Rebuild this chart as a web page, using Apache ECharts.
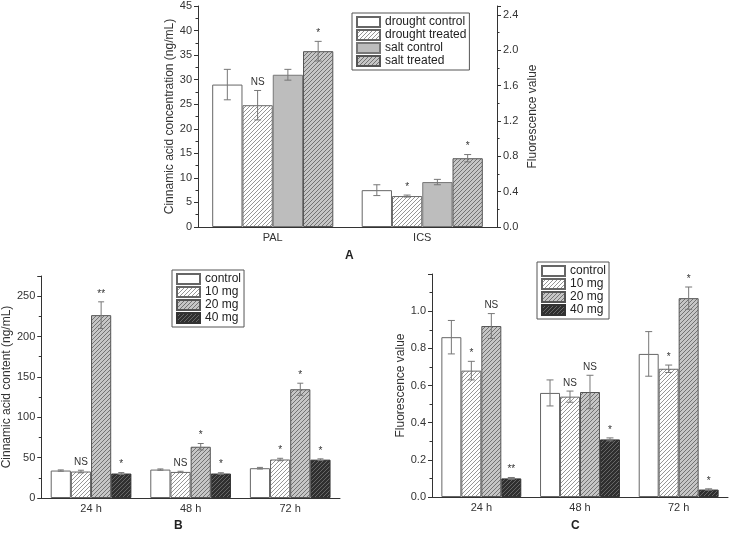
<!DOCTYPE html>
<html>
<head>
<meta charset="utf-8">
<script src="https://cdn.jsdelivr.net/npm/echarts/dist/echarts.min.js"></script>
<style>html,body{margin:0;padding:0;background:#fff}#c{width:733px;height:533px}</style>
</head>
<body>
<div id="c"></div>
<script>
// ---------- Panel A data ----------
const catA = ['PAL', 'ICS'];
const namesA = ['drought control', 'drought treated', 'salt control', 'salt treated'];
const droughtControl = [29.0, 7.5];
const droughtControlErr = [3.1, 1.1];
const droughtTreated = [24.8, 6.3];
const droughtTreatedErr = [3.0, 0.2];
const saltControl = [31.0, 9.15];
const saltControlErr = [1.1, 0.55];
const saltTreated = [35.8, 14.0];
const saltTreatedErr = [2.0, 0.75];
const sigA = [['', ''], ['NS', '*'], ['', ''], ['*', '*']];

// ---------- Panels B / C shared ----------
const catBC = ['24 h', '48 h', '72 h'];
const namesBC = ['control', '10 mg', '20 mg', '40 mg'];

// ---------- Panel B data ----------
const bControl = [34.0, 35.2, 36.9];
const bControlErr = [0.8, 0.8, 1.0];
const b10 = [32.8, 32.3, 47.7];
const b10Err = [1.6, 0.8, 1.5];
const b20 = [226.5, 63.5, 134.7];
const b20Err = [16.5, 4.0, 7.5];
const b40 = [30.3, 30.3, 47.5];
const b40Err = [1.2, 1.0, 1.0];
const sigB = [['', '', ''], ['NS', 'NS', '*'], ['**', '*', '*'], ['*', '*', '*']];

// ---------- Panel C data ----------
const cControl = [0.86, 0.56, 0.77];
const cControlErr = [0.09, 0.07, 0.12];
const c10 = [0.68, 0.54, 0.69];
const c10Err = [0.05, 0.03, 0.02];
const c20 = [0.92, 0.565, 1.07];
const c20Err = [0.067, 0.09, 0.06];
const c40 = [0.10, 0.31, 0.04];
const c40Err = [0.005, 0.008, 0.004];
const sigC = [['', '', ''], ['*', 'NS', '*'], ['NS', 'NS', '*'], ['**', '*', '*']];

// ---------- styling helpers ----------
function hatch(bg, fg, p) {
  p = p || 4;
  const c = document.createElement('canvas');
  c.width = p; c.height = p;
  const ctx = c.getContext('2d');
  ctx.fillStyle = bg; ctx.fillRect(0, 0, p, p);
  ctx.strokeStyle = fg; ctx.lineWidth = 0.9;
  ctx.beginPath();
  ctx.moveTo(0, p); ctx.lineTo(p, 0);
  ctx.moveTo(-1, 1); ctx.lineTo(1, -1);
  ctx.moveTo(p - 1, p + 1); ctx.lineTo(p + 1, p - 1);
  ctx.stroke();
  return { image: c, repeat: 'repeat' };
}
const styleWhite = { color: '#ffffff', borderColor: '#666', borderWidth: 1 };
const styleHatchWhite = { color: hatch('#ffffff', '#8a8a8a'), borderColor: '#666', borderWidth: 1 };
const styleGray = { color: '#bdbdbd', borderColor: '#777', borderWidth: 1 };
const styleHatchGray = { color: hatch('#c6c6c6', '#6a6a6a'), borderColor: '#555', borderWidth: 1 };
const styleHatchDark = { color: hatch('#2f2f2f', '#6e6e6e'), borderColor: '#333', borderWidth: 1 };

const FONT = 'Liberation Sans, Arial, sans-serif';
const GAP = 0.19;

function barSeries(name, data, style, xi, yi) {
  return {
    type: 'bar', name: name, data: data, xAxisIndex: xi, yAxisIndex: yi,
    barGap: '0%', barCategoryGap: (GAP * 100) + '%',
    itemStyle: style, emphasis: { disabled: true }, z: 2
  };
}
function errSeries(vals, errs, sigs, k, xi, yi, capW) {
  return {
    type: 'custom', xAxisIndex: xi, yAxisIndex: yi, z: 5, silent: true,
    data: vals.map((v, i) => [i, v, errs[i]]),
    encode: { x: 0, y: 1 },
    renderItem: function (params, api) {
      const ci = api.value(0), v = api.value(1), e = api.value(2);
      const band = api.size([1, 0])[0];
      const bw = band * (1 - GAP) / 4;
      const cx = api.coord([ci, 0])[0] + (k - 1.5) * bw;
      const yT = api.coord([ci, v + e])[1];
      const yB = api.coord([ci, v - e])[1];
      const st = { stroke: '#777', lineWidth: 1 };
      const ch = [
        { type: 'line', shape: { x1: cx, y1: yT, x2: cx, y2: yB }, style: st },
        { type: 'line', shape: { x1: cx - capW / 2, y1: yT, x2: cx + capW / 2, y2: yT }, style: st },
        { type: 'line', shape: { x1: cx - capW / 2, y1: yB, x2: cx + capW / 2, y2: yB }, style: st }
      ];
      const s = sigs[params.dataIndex];
      if (s) {
        ch.push({ type: 'text', style: { text: s, x: cx, y: yT - 3, align: 'center', verticalAlign: 'bottom', font: '10px ' + FONT, fill: '#333' } });
      }
      return { type: 'group', children: ch };
    }
  };
}

const axisLineStyle = { show: true, lineStyle: { color: '#333', width: 1 } };
function valueAxis(gi, min, max, interval, fmt, name, gap, pos) {
  return {
    type: 'value', gridIndex: gi, min: min, max: max, interval: interval, position: pos,
    axisLine: axisLineStyle,
    axisTick: { show: true, length: 4, lineStyle: { color: '#333' } },
    minorTick: { show: true, splitNumber: 2, length: 2.5, lineStyle: { color: '#333' } },
    splitLine: { show: false },
    axisLabel: { fontSize: 11, color: '#333', fontFamily: FONT, margin: 6, formatter: fmt, showMaxLabel: (max % interval === 0) ? null : false },
    name: name, nameLocation: 'middle', nameRotate: 90, nameGap: gap,
    nameTextStyle: { fontSize: 12, color: '#333', fontFamily: FONT }
  };
}
function catAxis(gi, cats) {
  return {
    type: 'category', gridIndex: gi, data: cats,
    axisLine: axisLineStyle, axisTick: { show: false },
    axisLabel: { fontSize: 11, color: '#333', fontFamily: FONT, margin: 5 }
  };
}
function legend(left, top, names) {
  return {
    data: names, left: left, top: top, orient: 'vertical', icon: 'rect',
    borderColor: '#555', borderWidth: 1, padding: [3, 3, 3, 4],
    itemWidth: 23, itemHeight: 10, itemGap: 1,
    textStyle: { fontSize: 12, color: '#222', fontFamily: FONT, lineHeight: 12 },
    selectedMode: false
  };
}

const chart = echarts.init(document.getElementById('c'), null, { renderer: 'canvas' });
const option = {
  animation: false,
  backgroundColor: '#fff',
  grid: [
    { left: 198, right: 236, top: 6, bottom: 306 },
    { left: 40, width: 300, top: 276, bottom: 35 },
    { left: 432, right: 5, top: 274, bottom: 36 }
  ],
  xAxis: [catAxis(0, catA), catAxis(1, catBC), catAxis(2, catBC)],
  yAxis: [
    valueAxis(0, 0, 45, 5, v => String(v), 'Cinnamic acid concentration (ng/mL)', 22, 'left'),
    valueAxis(0, 0, 2.5, 0.4, v => v.toFixed(1), 'Fluorescence value', 30, 'right'),
    valueAxis(1, 0, 275, 50, v => String(v), 'Cinnamic acid content (ng/mL)', 26, 'left'),
    valueAxis(2, 0, 1.2, 0.2, v => v.toFixed(1), 'Fluorescence value', 25, 'left')
  ],
  legend: [legend(352, 13, namesA), legend(172, 270, namesBC), legend(537, 262, namesBC)],
  graphic: [
    { type: 'text', left: 345, top: 250, style: { text: 'A', font: 'bold 12px ' + FONT, fill: '#222' } },
    { type: 'text', left: 174, top: 520, style: { text: 'B', font: 'bold 12px ' + FONT, fill: '#222' } },
    { type: 'text', left: 571, top: 520, style: { text: 'C', font: 'bold 12px ' + FONT, fill: '#222' } }
  ],
  series: [
    barSeries(namesA[0], droughtControl, styleWhite, 0, 0),
    barSeries(namesA[1], droughtTreated, styleHatchWhite, 0, 0),
    barSeries(namesA[2], saltControl, styleGray, 0, 0),
    barSeries(namesA[3], saltTreated, styleHatchGray, 0, 0),
    errSeries(droughtControl, droughtControlErr, sigA[0], 0, 0, 0, 7),
    errSeries(droughtTreated, droughtTreatedErr, sigA[1], 1, 0, 0, 7),
    errSeries(saltControl, saltControlErr, sigA[2], 2, 0, 0, 7),
    errSeries(saltTreated, saltTreatedErr, sigA[3], 3, 0, 0, 7),

    barSeries(namesBC[0], bControl, styleWhite, 1, 2),
    barSeries(namesBC[1], b10, styleHatchWhite, 1, 2),
    barSeries(namesBC[2], b20, styleHatchGray, 1, 2),
    barSeries(namesBC[3], b40, styleHatchDark, 1, 2),
    errSeries(bControl, bControlErr, sigB[0], 0, 1, 2, 6),
    errSeries(b10, b10Err, sigB[1], 1, 1, 2, 6),
    errSeries(b20, b20Err, sigB[2], 2, 1, 2, 6),
    errSeries(b40, b40Err, sigB[3], 3, 1, 2, 6),

    barSeries(namesBC[0], cControl, styleWhite, 2, 3),
    barSeries(namesBC[1], c10, styleHatchWhite, 2, 3),
    barSeries(namesBC[2], c20, styleHatchGray, 2, 3),
    barSeries(namesBC[3], c40, styleHatchDark, 2, 3),
    errSeries(cControl, cControlErr, sigC[0], 0, 2, 3, 7),
    errSeries(c10, c10Err, sigC[1], 1, 2, 3, 7),
    errSeries(c20, c20Err, sigC[2], 2, 2, 3, 7),
    errSeries(c40, c40Err, sigC[3], 3, 2, 3, 7)
  ]
};
chart.setOption(option);
</script>
</body>
</html>
